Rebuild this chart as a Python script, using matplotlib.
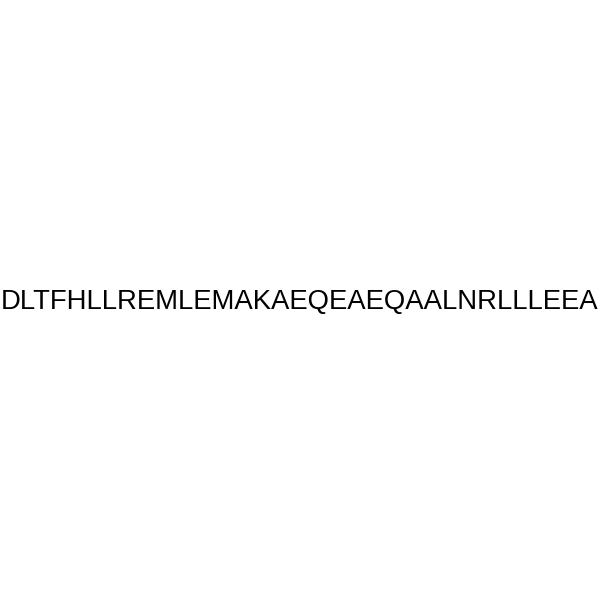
import matplotlib
matplotlib.use('Agg')
import matplotlib.pyplot as plt

sequence = 'DLTFHLLREMLEMAKAEQEAEQAALNRLLLEEA'

fig = plt.figure(figsize=(6, 6), dpi=100)
fig.patch.set_facecolor('white')
fig.text(0.5, 0.497, sequence, ha='center', va='center',
         family='Liberation Sans', fontsize=19.8, color='black')
fig.savefig('out.png', dpi=100, facecolor='white')
